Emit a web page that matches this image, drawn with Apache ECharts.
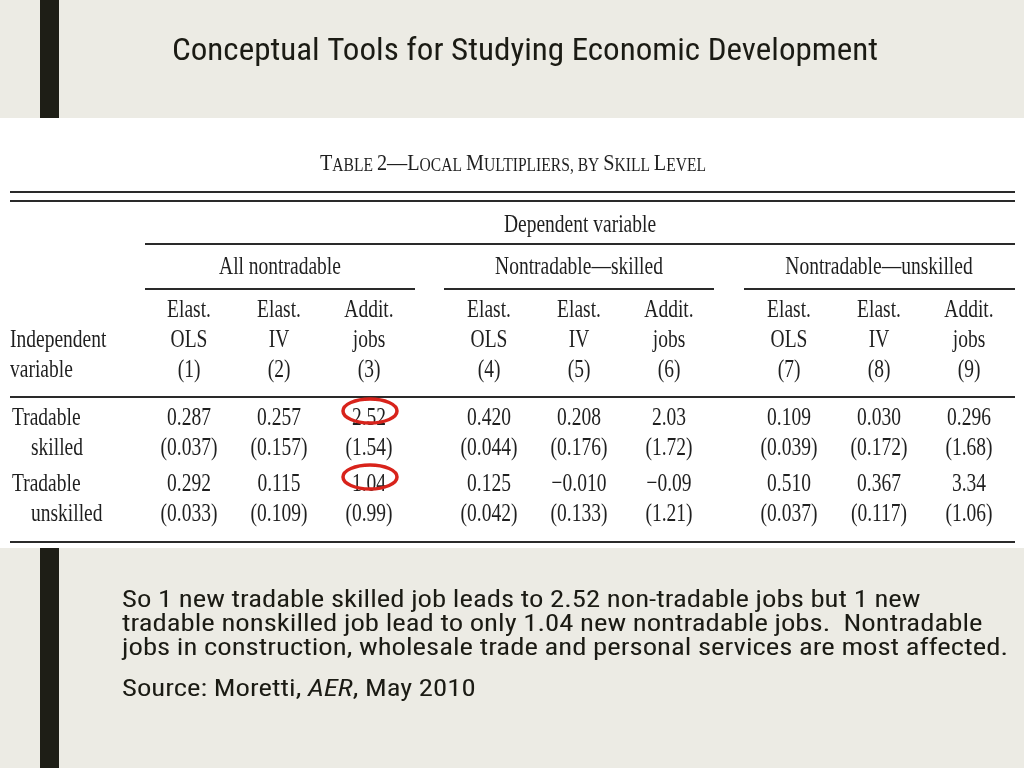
<!DOCTYPE html>
<html><head><meta charset="utf-8">
<script src="https://cdn.jsdelivr.net/npm/echarts@6/dist/echarts.min.js"></script>
<style>html,body{margin:0;padding:0;background:#ecebe4;}#c{width:1024px;height:768px;}</style>
</head><body><div id="c"></div>
<script>
// ---------- data ----------
const slideTitle = 'Conceptual Tools for Studying Economic Development';
const tableTitleParts = [['a','T'],['b','ABLE '],['a','2—L'],['b','OCAL '],['a','M'],['b','ULTIPLIERS, BY '],['a','S'],['b','KILL '],['a','L'],['b','EVEL']];
const dependentLabel = 'Dependent variable';
const groupNames = ['All nontradable', 'Nontradable—skilled', 'Nontradable—unskilled'];
const headTop = ['Elast.', 'Elast.', 'Addit.'];
const headMid = ['OLS', 'IV', 'jobs'];
const colNumbers = ['(1)', '(2)', '(3)', '(4)', '(5)', '(6)', '(7)', '(8)', '(9)'];
const stubHead = ['Independent', 'variable'];
const rowTop = ['Tradable', 'Tradable'];
const rowBottom = ['skilled', 'unskilled'];
const skilledCoef = [0.287, 0.257, 2.52, 0.420, 0.208, 2.03, 0.109, 0.030, 0.296];
const skilledSE = [0.037, 0.157, 1.54, 0.044, 0.176, 1.72, 0.039, 0.172, 1.68];
const unskilledCoef = [0.292, 0.115, 1.04, 0.125, -0.010, -0.09, 0.510, 0.367, 3.34];
const unskilledSE = [0.033, 0.109, 0.99, 0.042, 0.133, 1.21, 0.037, 0.117, 1.06];
// decimals shown for each printed value
const skilledCoefDec = [3, 3, 2, 3, 3, 2, 3, 3, 3];
const skilledSEDec = [3, 3, 2, 3, 3, 2, 3, 3, 2];
const unskilledCoefDec = [3, 3, 2, 3, 3, 2, 3, 3, 2];
const unskilledSEDec = [3, 3, 2, 3, 3, 2, 3, 3, 2];
const highlighted = [[0, 2], [1, 2]]; // [row, column]
const bodyLines = [
  'So 1 new tradable skilled job leads to 2.52 non-tradable jobs but 1 new',
  'tradable nonskilled job lead to only 1.04 new nontradable jobs.  Nontradable',
  'jobs in construction, wholesale trade and personal services are most affected.'
];
const sourceParts = [['n', 'Source: Moretti, '], ['i', 'AER'], ['n', ', May 2010']];

// ---------- layout ----------
const COL0 = 189, COLW = 90, ROW0 = 310, ROWH = 30;
const colPos = i => i + Math.floor(i / 3) / 3;
const rowPos = { top: 0, mid: 1, num: 2, r0a: 3.6, r0b: 4.6, r1a: 5.8, r1b: 6.8 };
const SERIF = '"Liberation Serif", "Times New Roman", serif';
const SANS = '"Liberation Sans Narrow", "Roboto Condensed", Roboto, "Liberation Sans", sans-serif';
const TS = 26, SX = 0.75;
const ink = '#1f1f1f';
const slideInk = '#1b1b14';

const ctx = document.createElement('canvas').getContext('2d');
function measure(text, font) { ctx.font = font; return ctx.measureText(text).width; }
const titleFont = '31px ' + SANS;
const titleScale = 706 / measure(slideTitle, titleFont);
const BFS = 24;
const bodyFont = BFS + 'px ' + SANS;
const bodyScale = 886 / measure(bodyLines[2], bodyFont);
const ttA = 24, ttB = 18.5;
let ttW = 0;
tableTitleParts.forEach(p => { ttW += measure(p[1], (p[0] === 'a' ? ttA : ttB) + 'px ' + SERIF); });
const ttScale = 386 / ttW;

function fmt(v, d) { const s = Math.abs(v).toFixed(d); return v < 0 ? '−' + s : s; }

// ---------- cells ----------
const cells = [];
for (let c = 0; c < 9; c++) {
  const x = colPos(c);
  cells.push({ v: [x, rowPos.top], t: headTop[c % 3], a: 'center' });
  cells.push({ v: [x, rowPos.mid], t: headMid[c % 3], a: 'center' });
  cells.push({ v: [x, rowPos.num], t: colNumbers[c], a: 'center' });
  cells.push({ v: [x, rowPos.r0a], t: fmt(skilledCoef[c], skilledCoefDec[c]), a: 'center' });
  cells.push({ v: [x, rowPos.r0b], t: '(' + fmt(skilledSE[c], skilledSEDec[c]) + ')', a: 'center' });
  cells.push({ v: [x, rowPos.r1a], t: fmt(unskilledCoef[c], unskilledCoefDec[c]), a: 'center' });
  cells.push({ v: [x, rowPos.r1b], t: '(' + fmt(unskilledSE[c], unskilledSEDec[c]) + ')', a: 'center' });
}
const stubX = (10 - COL0) / COLW, stubX2 = (12 - COL0) / COLW, indentX = (31 - COL0) / COLW;
cells.push({ v: [stubX, rowPos.mid], t: stubHead[0], a: 'left' });
cells.push({ v: [stubX, rowPos.num], t: stubHead[1], a: 'left' });
cells.push({ v: [stubX2, rowPos.r0a], t: rowTop[0], a: 'left' });
cells.push({ v: [indentX, rowPos.r0b], t: rowBottom[0], a: 'left' });
cells.push({ v: [stubX2, rowPos.r1a], t: rowTop[1], a: 'left' });
cells.push({ v: [indentX, rowPos.r1b], t: rowBottom[1], a: 'left' });

const rings = highlighted.map(h => [colPos(h[1]), h[0] === 0 ? rowPos.r0a : rowPos.r1a]);

// ---------- graphic decorations ----------
const rule = (x1, x2, y) => ({ type: 'line', shape: { x1, y1: y, x2, y2: y }, style: { stroke: '#2a2a2a', lineWidth: 2 } });
const serifText = (t, x, y, align) => ({ type: 'text', x, y, scaleX: SX, style: { text: t, font: TS + 'px ' + SERIF, fill: ink, align: align || 'center', verticalAlign: 'middle' } });
const graphics = [
  { type: 'rect', z: -10, shape: { x: 0, y: 118, width: 1024, height: 430 }, style: { fill: '#ffffff' } },
  { type: 'rect', shape: { x: 40, y: 0, width: 19, height: 118 }, style: { fill: '#1e1e16' } },
  { type: 'rect', shape: { x: 40, y: 548, width: 19, height: 220 }, style: { fill: '#1e1e16' } },
  { type: 'text', x: 172, y: 52, scaleX: titleScale, style: { text: slideTitle, font: titleFont, fill: slideInk, align: 'left', verticalAlign: 'middle' } },
  { type: 'text', x: 320, y: 164, scaleX: ttScale, style: {
      text: tableTitleParts.map(p => '{' + p[0] + '|' + p[1] + '}').join(''),
      rich: { a: { fontSize: ttA, fontFamily: SERIF, fill: ink, verticalAlign: 'bottom' }, b: { fontSize: ttB, fontFamily: SERIF, fill: ink, verticalAlign: 'bottom' } },
      align: 'left', verticalAlign: 'middle' } },
  rule(10, 1015, 192), rule(10, 1015, 201),
  serifText(dependentLabel, 580, 225),
  rule(145, 1015, 244),
  serifText(groupNames[0], 280, 267), serifText(groupNames[1], 579, 267), serifText(groupNames[2], 879, 267),
  rule(145, 415, 289), rule(444, 714, 289), rule(744, 1015, 289),
  rule(10, 1015, 397),
  rule(10, 1015, 542)
];
bodyLines.forEach((l, i) => graphics.push({ type: 'text', x: 122, y: 601 + 24 * i, scaleX: bodyScale, style: { text: l, font: bodyFont, fill: slideInk, align: 'left', verticalAlign: 'middle' } }));
graphics.push({ type: 'text', x: 122, y: 690, scaleX: bodyScale, style: {
  text: sourceParts.map(p => '{' + p[0] + '|' + p[1] + '}').join(''),
  rich: { n: { fontSize: BFS, fontFamily: SANS, fill: slideInk }, i: { fontSize: BFS, fontFamily: SANS, fontStyle: 'italic', fill: slideInk } },
  align: 'left', verticalAlign: 'middle' } });

const chart = echarts.init(document.getElementById('c'), null, { renderer: 'canvas' });
chart.setOption({
  backgroundColor: '#ecebe4',
  animation: false,
  grid: { left: 0, right: 0, top: 0, bottom: 0 },
  xAxis: { type: 'value', min: -COL0 / COLW, max: (1024 - COL0) / COLW, show: false },
  yAxis: { type: 'value', inverse: true, min: -ROW0 / ROWH, max: (768 - ROW0) / ROWH, show: false },
  graphic: graphics,
  series: [
    {
      type: 'custom', z: 5,
      data: cells.map(c => c.v),
      renderItem: (params, api) => {
        const c = cells[params.dataIndex];
        const p = api.coord([api.value(0), api.value(1)]);
        return { type: 'text', x: p[0], y: p[1], scaleX: SX,
          style: { text: c.t, font: TS + 'px ' + SERIF, fill: ink, align: c.a, verticalAlign: 'middle' } };
      }
    },
    {
      type: 'custom', z: 6,
      data: rings,
      renderItem: (params, api) => {
        const p = api.coord([api.value(0), api.value(1)]);
        const cx = p[0] + 1, cy = p[1] - 7, rx = 27, ry = 12;
        const d = `M ${cx - rx} ${cy} A ${rx} ${ry} 0 1 0 ${cx + rx} ${cy} A ${rx} ${ry} 0 1 0 ${cx - rx} ${cy} Z`;
        return { type: 'path', shape: { pathData: d }, style: { fill: 'none', stroke: '#d8231b', lineWidth: 3.5 } };
      }
    }
  ]
});
</script></body></html>
